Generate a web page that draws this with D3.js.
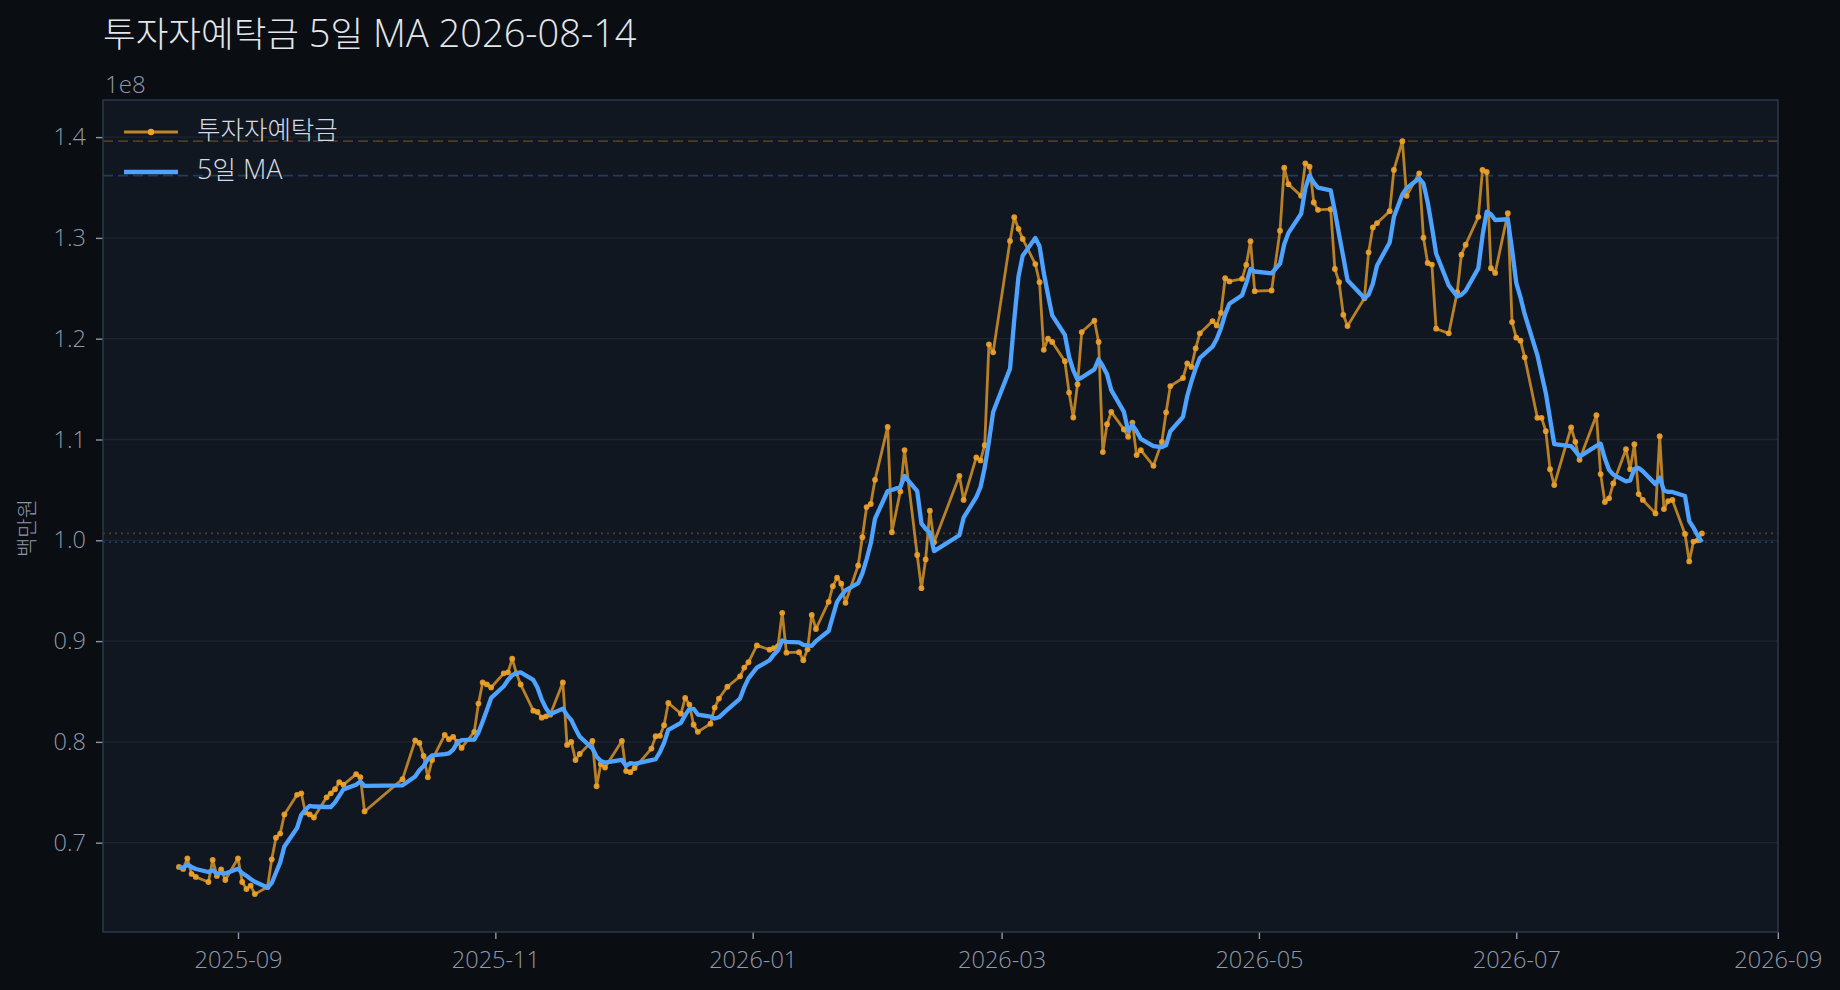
<!DOCTYPE html>
<html>
<head>
<meta charset="utf-8">
<script src="https://cdn.jsdelivr.net/npm/d3@7"></script>
<style>
  body { margin: 0; background: #0a0d12; }
  svg text { font-family: "Open Sans", "Noto Sans CJK KR", sans-serif; font-weight: 300; }
</style>
</head>
<body>
<svg id="chart" width="1840" height="990"></svg>
<script>
// trading days shown in the picture
const dates = [
  "2025-08-18","2025-08-19","2025-08-20","2025-08-21","2025-08-22","2025-08-25","2025-08-26","2025-08-27","2025-08-28","2025-08-29",
  "2025-09-01","2025-09-02","2025-09-03","2025-09-04","2025-09-05","2025-09-08","2025-09-09","2025-09-10","2025-09-11","2025-09-12",
  "2025-09-15","2025-09-16","2025-09-17","2025-09-18","2025-09-19","2025-09-22","2025-09-23","2025-09-24","2025-09-25","2025-09-26",
  "2025-09-29","2025-09-30","2025-10-01","2025-10-10","2025-10-13","2025-10-14","2025-10-15","2025-10-16","2025-10-17",
  "2025-10-20","2025-10-21","2025-10-22","2025-10-23","2025-10-24","2025-10-27","2025-10-28","2025-10-29","2025-10-30","2025-10-31",
  "2025-11-03","2025-11-04","2025-11-05","2025-11-06","2025-11-07","2025-11-10","2025-11-11","2025-11-12","2025-11-13","2025-11-14",
  "2025-11-17","2025-11-18","2025-11-19","2025-11-20","2025-11-21","2025-11-24","2025-11-25","2025-11-26","2025-11-27",
  "2025-12-01","2025-12-02","2025-12-03","2025-12-04","2025-12-08","2025-12-09","2025-12-10","2025-12-11","2025-12-12",
  "2025-12-15","2025-12-16","2025-12-17","2025-12-18","2025-12-19","2025-12-22","2025-12-23","2025-12-24","2025-12-26",
  "2025-12-29","2025-12-30","2025-12-31","2026-01-02","2026-01-05","2026-01-06","2026-01-07","2026-01-08","2026-01-09",
  "2026-01-12","2026-01-13","2026-01-14","2026-01-15","2026-01-16","2026-01-19","2026-01-20","2026-01-21","2026-01-22","2026-01-23",
  "2026-01-26","2026-01-27","2026-01-28","2026-01-29","2026-01-30","2026-02-02","2026-02-03","2026-02-05","2026-02-06",
  "2026-02-09","2026-02-10","2026-02-11","2026-02-12","2026-02-13","2026-02-19","2026-02-20",
  "2026-02-23","2026-02-24","2026-02-25","2026-02-26","2026-02-27","2026-03-03","2026-03-04","2026-03-05","2026-03-06",
  "2026-03-09","2026-03-10","2026-03-11","2026-03-12","2026-03-13","2026-03-16","2026-03-17","2026-03-18","2026-03-19","2026-03-20",
  "2026-03-23","2026-03-24","2026-03-25","2026-03-26","2026-03-27","2026-03-30","2026-03-31","2026-04-01","2026-04-02","2026-04-03",
  "2026-04-06","2026-04-08","2026-04-09","2026-04-10","2026-04-13","2026-04-14","2026-04-15","2026-04-16","2026-04-17",
  "2026-04-20","2026-04-21","2026-04-22","2026-04-23","2026-04-24","2026-04-27","2026-04-28","2026-04-29","2026-04-30",
  "2026-05-04","2026-05-06","2026-05-07","2026-05-08","2026-05-11","2026-05-12","2026-05-13","2026-05-14","2026-05-15",
  "2026-05-18","2026-05-19","2026-05-20","2026-05-21","2026-05-22","2026-05-26","2026-05-27","2026-05-28","2026-05-29",
  "2026-06-01","2026-06-02","2026-06-04","2026-06-05","2026-06-08","2026-06-09","2026-06-10","2026-06-11","2026-06-12",
  "2026-06-15","2026-06-17","2026-06-18","2026-06-19","2026-06-22","2026-06-23","2026-06-24","2026-06-25","2026-06-26",
  "2026-06-29","2026-06-30","2026-07-01","2026-07-02","2026-07-03","2026-07-06","2026-07-07","2026-07-08","2026-07-09","2026-07-10",
  "2026-07-14","2026-07-15","2026-07-16","2026-07-20","2026-07-21","2026-07-22","2026-07-23","2026-07-24",
  "2026-07-27","2026-07-28","2026-07-29","2026-07-30","2026-07-31","2026-08-03","2026-08-04","2026-08-05","2026-08-06","2026-08-07",
  "2026-08-10","2026-08-11","2026-08-12","2026-08-13","2026-08-14"
];

// 투자자예탁금, in units of 1e8 (백만원)
const deposits = [
  0.676,0.674,0.6845,0.669,0.666,0.661,0.683,0.667,0.6735,0.663,
  0.6845,0.661,0.654,0.6575,0.649,0.656,0.6835,0.705,0.709,0.728,
  0.7475,0.749,0.730,0.728,0.725,0.745,0.749,0.753,0.760,0.7575,
  0.768,0.765,0.731,0.763,0.8015,0.799,0.786,0.765,0.782,
  0.807,0.8026,0.805,0.800,0.794,0.810,0.838,0.859,0.857,0.854,
  0.868,0.869,0.8825,0.868,0.857,0.831,0.8297,0.824,0.8254,0.827,
  0.859,0.797,0.800,0.782,0.788,0.801,0.756,0.778,0.7746,
  0.801,0.771,0.770,0.774,0.7934,0.8056,0.806,0.8165,0.8386,
  0.828,0.8436,0.837,0.817,0.810,0.818,0.834,0.843,0.8547,
  0.865,0.8737,0.879,0.8957,0.8915,0.893,0.895,0.928,0.8885,
  0.889,0.881,0.8918,0.926,0.912,0.939,0.9545,0.963,0.957,0.938,
  0.975,1.003,1.033,1.036,1.060,1.1125,1.008,1.0485,1.0895,
  0.9854,0.9525,0.981,1.0294,0.998,1.064,1.040,
  1.0822,1.0792,1.0944,1.1944,1.1865,1.297,1.3205,1.309,1.299,
  1.274,1.256,1.189,1.200,1.1967,1.1776,1.1465,1.1218,1.1548,1.2066,
  1.218,1.1967,1.0875,1.1152,1.1274,1.110,1.1026,1.1168,1.0845,1.0894,
  1.0739,1.0977,1.127,1.153,1.161,1.1756,1.172,1.1904,1.2053,
  1.2175,1.2132,1.2257,1.260,1.2568,1.2594,1.2733,1.2967,1.2471,
  1.2478,1.3071,1.3697,1.3532,1.3417,1.374,1.3707,1.3351,1.3278,
  1.3285,1.2692,1.256,1.2237,1.2125,1.240,1.2857,1.3104,1.3147,
  1.3265,1.3674,1.396,1.3417,1.3641,1.3002,1.2751,1.2735,1.2099,
  1.2053,1.2461,1.2834,1.2932,1.3209,1.3674,1.3654,1.2699,1.2652,
  1.3245,1.2165,1.201,1.198,1.1815,1.1215,1.1215,1.1083,1.0706,1.0548,
  1.1119,1.0977,1.0799,1.1241,1.0657,1.038,1.0416,1.0564,
  1.0904,1.0706,1.0954,1.0459,1.040,1.0267,1.1033,1.031,1.0389,1.040,
  1.0063,0.979,0.9987,1.000,1.0068
];

const yTicks = [0.7, 0.8, 0.9, 1.0, 1.1, 1.2, 1.3, 1.4];
const xTicks = ["2025-09-01","2025-11-01","2026-01-01","2026-03-01","2026-05-01","2026-07-01","2026-09-01"];
const yDomain = [0.6114, 1.4368];

const parse = d3.timeParse("%Y-%m-%d");

// 5일 이동평균 (rolling 5, min 1)
const data = dates.map((d, i) => {
  const win = deposits.slice(Math.max(0, i - 4), i + 1);
  return { date: parse(d), value: deposits[i], ma: d3.mean(win) };
});

const svg = d3.select("#chart"),
      margin = { top: 100, right: 62, bottom: 58, left: 103 },
      width = +svg.attr("width") - margin.left - margin.right,
      height = +svg.attr("height") - margin.top - margin.bottom;

const ORANGE = "#eda22a", BLUE = "#4da3ff", MUTED = "#9099aa";
const HANGUL_FONT = '"Noto Sans CJK KR Light", "Noto Sans CJK KR DemiLight", "Noto Sans CJK KR", sans-serif';

// split Hangul runs from latin runs so each gets its own face and size
function mixedText(sel, str, latinSize, hangulSize) {
  const runs = str.match(/[\uAC00-\uD7A3]+|[^\uAC00-\uD7A3]+/g);
  runs.forEach(r => {
    const isHangul = /[\uAC00-\uD7A3]/.test(r);
    sel.append("tspan")
      .attr("font-size", isHangul ? hangulSize : latinSize)
      .style("font-family", isHangul ? HANGUL_FONT : '"Open Sans", sans-serif')
      .text(r);
  });
  return sel;
}

svg.append("rect").attr("width", 1840).attr("height", 990).attr("fill", "#0a0d12");

const chart = svg.append("g").attr("transform", `translate(${margin.left},${margin.top})`);

const x = d3.scaleTime()
  .domain([new Date(2025, 6, 31, 0), new Date(2026, 8, 1, 1)])
  .range([0, width]);

const y = d3.scaleLinear().domain(yDomain).range([height, 0]);

chart.append("rect").attr("width", width).attr("height", height).attr("fill", "#111721");

// horizontal grid
chart.append("g")
  .selectAll("line")
  .data(yTicks)
  .join("line")
  .attr("x1", 0).attr("x2", width)
  .attr("y1", d => y(d)).attr("y2", d => y(d))
  .attr("stroke", "#1e2532").attr("stroke-width", 1.3);

// reference lines: max and last for each series
const refs = [
  { v: d3.max(data, d => d.value), color: ORANGE, dash: "10,5" },
  { v: d3.max(data, d => d.ma), color: BLUE, dash: "10,5" },
  { v: data[data.length - 1].value, color: ORANGE, dash: "2,4" },
  { v: data[data.length - 1].ma, color: BLUE, dash: "2,4" }
];
chart.append("g")
  .selectAll("line")
  .data(refs)
  .join("line")
  .attr("x1", 0).attr("x2", width)
  .attr("y1", d => y(d.v)).attr("y2", d => y(d.v))
  .attr("stroke", d => d.color).attr("stroke-opacity", 0.28)
  .attr("stroke-width", 1.7)
  .attr("stroke-dasharray", d => d.dash);

// axes
const yAxis = chart.append("g")
  .call(d3.axisLeft(y).tickValues(yTicks).tickFormat(d3.format(".1f")).tickSize(7).tickPadding(10));
const xAxis = chart.append("g")
  .attr("transform", `translate(0,${height})`)
  .call(d3.axisBottom(x).tickValues(xTicks.map(parse)).tickFormat(d3.timeFormat("%Y-%m")).tickSize(7).tickPadding(12));

[yAxis, xAxis].forEach(a => {
  a.select(".domain").remove();
  a.selectAll(".tick line").attr("stroke", MUTED).attr("stroke-width", 1.4);
  a.selectAll(".tick text").attr("fill", MUTED).attr("font-size", 23.5)
    .style("font-family", '"Open Sans", sans-serif').style("font-weight", 300);
});

// series
const line = d3.line().x(d => x(d.date)).y(d => y(d.value));
const maLine = d3.line().x(d => x(d.date)).y(d => y(d.ma));

chart.append("path")
  .datum(data)
  .attr("fill", "none")
  .attr("stroke", ORANGE).attr("stroke-opacity", 0.76)
  .attr("stroke-width", 2.8)
  .attr("stroke-linejoin", "round")
  .attr("d", line);

chart.append("g")
  .selectAll("circle")
  .data(data)
  .join("circle")
  .attr("cx", d => x(d.date))
  .attr("cy", d => y(d.value))
  .attr("r", 2.9)
  .attr("fill", ORANGE).attr("fill-opacity", 0.92);

chart.append("path")
  .datum(data)
  .attr("fill", "none")
  .attr("stroke", BLUE)
  .attr("stroke-width", 4.3)
  .attr("stroke-linejoin", "round")
  .attr("d", maLine);

// frame
chart.append("rect").attr("width", width).attr("height", height)
  .attr("fill", "none").attr("stroke", "#2d3848").attr("stroke-width", 1.5);

// legend
const legend = chart.append("g").attr("transform", "translate(21,32)");
legend.append("line").attr("x1", 0).attr("x2", 54).attr("y1", 0).attr("y2", 0)
  .attr("stroke", ORANGE).attr("stroke-opacity", 0.8).attr("stroke-width", 3);
legend.append("circle").attr("cx", 27).attr("cy", 0).attr("r", 3.2).attr("fill", ORANGE);
mixedText(legend.append("text").attr("x", 73).attr("y", 0).attr("dy", "0.42em").attr("fill", "#d6dae2"),
  "투자자예탁금", 27, 25.5);
legend.append("line").attr("x1", 0).attr("x2", 54).attr("y1", 40).attr("y2", 40)
  .attr("stroke", BLUE).attr("stroke-width", 4.6);
mixedText(legend.append("text").attr("x", 73).attr("y", 40).attr("dy", "0.42em").attr("fill", "#d6dae2"),
  "5일 MA", 27, 25.5);

// titles and labels
mixedText(svg.append("text").attr("x", 103).attr("y", 47).attr("fill", "#e3e6ec"),
  "투자자예탁금 5일 MA 2026-08-14", 38, 35.5);

svg.append("text").attr("x", 105).attr("y", 93)
  .attr("fill", MUTED).attr("font-size", 24).text("1e8");

mixedText(svg.append("text")
  .attr("transform", `translate(28,528) rotate(-90)`)
  .attr("text-anchor", "middle").attr("dy", "0.35em")
  .attr("fill", MUTED), "백만원", 21, 21);
</script>
</body>
</html>
